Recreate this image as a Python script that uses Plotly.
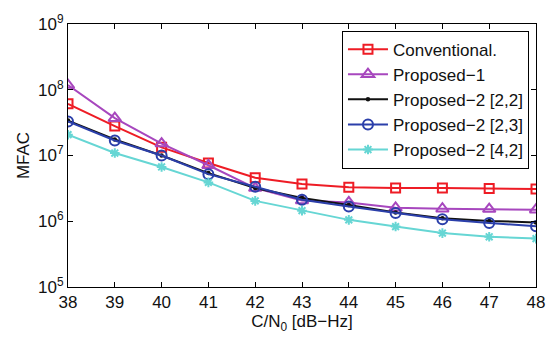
import plotly.graph_objects as go

cn0 = [38, 39, 40, 41, 42, 43, 44, 45, 46, 47, 48]
conventional = [6.1e7, 2.8e7, 1.33e7, 7.7e6, 4.6e6, 3.7e6, 3.3e6, 3.2e6, 3.2e6, 3.15e6, 3.1e6]
proposed1 = [1.18e8, 3.7e7, 1.52e7, 7.1e6, 3.2e6, 2.06e6, 1.93e6, 1.6e6, 1.55e6, 1.53e6, 1.5e6]
proposed2_22 = [3.4e7, 1.75e7, 1.0e7, 5.4e6, 3.2e6, 2.25e6, 1.76e6, 1.36e6, 1.11e6, 1.01e6, 9.6e5]
proposed2_23 = [3.3e7, 1.69e7, 1.0e7, 5.2e6, 3.35e6, 2.13e6, 1.68e6, 1.34e6, 1.07e6, 9.4e5, 8.4e5]
proposed2_42 = [2.07e7, 1.09e7, 6.7e6, 3.9e6, 2.04e6, 1.45e6, 1.05e6, 8.3e5, 6.6e5, 5.8e5, 5.45e5]

names = ["Conventional.", "Proposed\u22121", "Proposed\u22122 [2,2]", "Proposed\u22122 [2,3]", "Proposed\u22122 [4,2]"]
series = [conventional, proposed1, proposed2_22, proposed2_23, proposed2_42]
colors = ["#EE1C25", "#A747BE", "#111111", "#2B3FAA", "#66D6D4"]
symbols = ["square-open", "triangle-up-open", "circle", "circle-open", "asterisk-open"]
sizes = [9, 11, 2.5, 10, 8]

fig = go.Figure()
for name, ys, c, s, sz in zip(names, series, colors, symbols, sizes):
    fig.add_trace(go.Scatter(
        x=cn0, y=ys, name=name, mode="lines+markers",
        line=dict(color=c, width=2),
        marker=dict(symbol=s, size=sz, color=c, line=dict(color=c, width=2)),
    ))

ytick_vals = [1e5, 1e6, 1e7, 1e8, 1e9]
ytick_text = ["10<sup>5</sup>", "10<sup>6</sup>", "10<sup>7</sup>", "10<sup>8</sup>", "10<sup>9</sup>"]

fig.update_layout(
    width=557, height=339,
    margin=dict(l=68, r=18, t=21, b=46),
    paper_bgcolor="white", plot_bgcolor="white",
    font=dict(family="Liberation Sans, Arial, sans-serif", size=17, color="#111111"),
    showlegend=True,
    legend=dict(
        x=0.985, xanchor="right", y=0.975, yanchor="top",
        bgcolor="white", bordercolor="black", borderwidth=1,
        font=dict(size=17), tracegroupgap=0, itemwidth=40,
    ),
    xaxis=dict(
        range=[38, 48], tickvals=cn0, ticks="inside", ticklen=5, tickcolor="black",
        showline=True, linecolor="black", linewidth=1, mirror="ticks",
        showgrid=False, zeroline=False,
        title=dict(text="C/N<sub>0</sub> [dB\u2212Hz]", font=dict(size=17), standoff=3),
    ),
    yaxis=dict(
        type="log", range=[5, 9], tickvals=ytick_vals, ticktext=ytick_text,
        ticks="inside", ticklen=5, tickcolor="black",
        showline=True, linecolor="black", linewidth=1, mirror="ticks",
        showgrid=False, zeroline=False,
        title=dict(text="MFAC", font=dict(size=17), standoff=4),
    ),
)

fig.write_html("out.html")
